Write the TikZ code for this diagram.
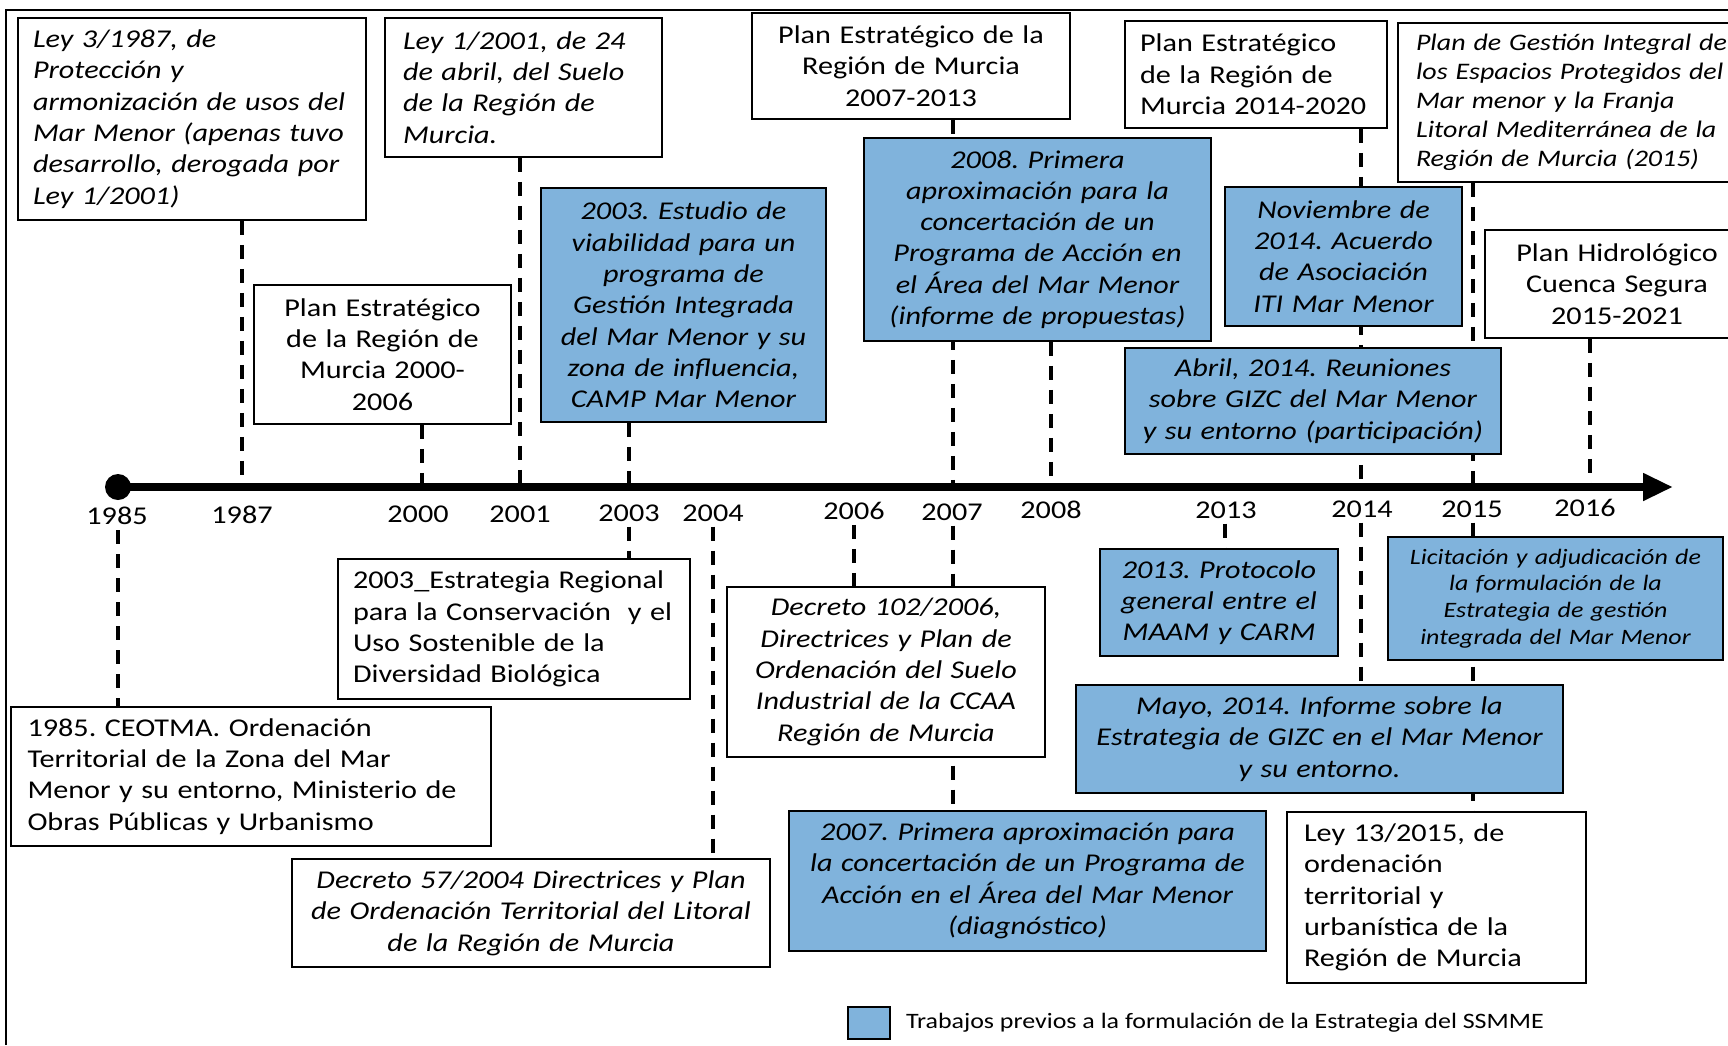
\documentclass[tikz,border=0pt]{standalone}
\usepackage{fontspec}
\setmainfont{Carlito}[FakeStretch=1.18]
\usetikzlibrary{arrows.meta,positioning,backgrounds}
\definecolor{azulprevio}{RGB}{128,179,220}
\frenchspacing

\tikzset{
  letra/.style={font=\fontsize{25.6}{31.3}\selectfont},
  cursiva/.style={font=\fontsize{25.6}{31.3}\selectfont\itshape},
  evento/.style={draw=black, line width=1.6pt, fill=white, inner sep=0pt, letra},
  previo/.style={evento, fill=azulprevio, cursiva},
  caja/.style n args={3}{minimum width=#1pt, minimum height=#2pt, text width=#3pt},
  guia/.style={line width=4pt, dash pattern=on 14pt off 10pt},
  anio/.style={inner sep=5pt, letra},
}

\begin{document}
\begin{tikzpicture}[x=1pt, y=-1pt]
\useasboundingbox (0,0) rectangle (1728,1045);
\clip (0,0) rectangle (1728,1045);

% boxes above the line
\node[evento, cursiva, caja={348}{202}{318}, align=left] (ley87) at (192,119) {Ley 3/1987, de\\Protección y\\armonización de usos del\\Mar Menor (apenas tuvo\\desarrollo, derogada por\\Ley 1/2001)};
\node[evento, cursiva, caja={277}{139}{241}, align=left] (ley01) at (523.5,87.5) {Ley 1/2001, de 24\\de abril, del Suelo\\de la Región de\\Murcia.};
\node[evento, caja={257}{139}{245}, align=center] (pe0006) at (382.5,354.5) {Plan Estratégico\\de la Región de\\Murcia 2000-\\2006};
\node[previo, caja={285}{234}{275}, align=center] (est03) at (683.5,305) {2003. Estudio de\\viabilidad para un\\programa de\\Gestión Integrada\\del Mar Menor y su\\zona de influencia,\\CAMP Mar Menor};
\node[evento, caja={318}{106}{300}, align=center] (pe0713) at (911,66) {Plan Estratégico de la\\Región de Murcia\\2007-2013};
\node[previo, caja={347}{203}{330}, align=center] (pr08) at (1037.5,239.5) {2008. Primera\\aproximación para la\\concertación de un\\Programa de Acción en\\el Área del Mar Menor\\(informe de propuestas)};
\node[evento, caja={262}{107}{232}, align=left] (pe1420) at (1256,74.5) {Plan Estratégico\\de la Región de\\Murcia 2014-2020};
\node[evento, caja={348}{159}{312}, align=left, font=\fontsize{23.7}{28.9}\selectfont\itshape] (pgi) at (1572,102.5) {Plan de Gestión Integral de\\los Espacios Protegidos del\\Mar menor y la Franja\\Litoral Mediterránea de la\\Región de Murcia (2015)};
\node[previo, caja={237}{139}{225}, align=center] (nov14) at (1343.5,256.5) {Noviembre de\\2014. Acuerdo\\de Asociación\\ITI Mar Menor};
\node[evento, caja={264}{108}{250}, align=center] (phs) at (1617,284) {Plan Hidrológico\\Cuenca Segura\\2015-2021};
\node[previo, caja={376}{106}{366}, align=center] (abr14) at (1313,401) {Abril, 2014. Reuniones\\sobre GIZC del Mar Menor\\y su entorno (participación)};

% boxes below the line
\node[evento, caja={480}{139}{447}, align=left] (ceotma) at (251,776.5) {1985. CEOTMA. Ordenación\\Territorial de la Zona del Mar\\Menor y su entorno, Ministerio de\\Obras Públicas y Urbanismo};
\node[evento, caja={352}{140}{322}, align=left] (erc03) at (514,629) {2003\_Estrategia Regional\\para la Conservación\ \ y el\\Uso Sostenible de la\\Diversidad Biológica};
\node[evento, cursiva, caja={478}{108}{460}, align=center] (dec04) at (531,913) {Decreto 57/2004 Directrices y Plan\\de Ordenación Territorial del Litoral\\de la Región de Murcia};
\node[evento, cursiva, caja={318}{170}{305}, align=center] (dec06) at (886,672) {Decreto 102/2006,\\Directrices y Plan de\\Ordenación del Suelo\\Industrial de la CCAA\\Región de Murcia};
\node[previo, caja={477}{140}{460}, align=center] (pr07) at (1027.5,881) {2007. Primera aproximación para\\la concertación de un Programa de\\Acción en el Área del Mar Menor\\(diagnóstico)};
\node[previo, caja={238}{107}{226}, align=center] (pro13) at (1219,602.5) {2013. Protocolo\\general entre el\\MAAM y CARM};
\node[previo, caja={335}{123}{320}, align=center, font=\fontsize{22}{26.8}\selectfont\itshape] (lic) at (1555.5,598.5) {Licitación y adjudicación de\\la formulación de la\\Estrategia de gestión\\integrada del Mar Menor};
\node[previo, caja={487}{108}{470}, align=center] (may14) at (1319.5,739) {Mayo, 2014. Informe sobre la\\Estrategia de GIZC en el Mar Menor\\y su entorno.};
\node[evento, caja={299}{171}{265}, align=left] (ley15) at (1436.5,897.5) {Ley 13/2015, de\\ordenación\\territorial y\\urbanística de la\\Región de Murcia};

% years
\foreach \a/\x/\lx/\ly in {1985/118/117/516, 1987/242/242/515, 2000/422/418/514, 2001/520/520/514, 2003/629/629/513, 2004/713/713/513, 2006/854/854/511, 2007/953/952/512, 2008/1051/1051/510, 2013/1225/1226/510, 2014/1361/1362/509, 2015/1473/1472/509, 2016/1590/1585/508}{
  \node[anio] (y\a) at (\lx,\ly) {\a};
  \coordinate (t\a) at (\x,487);
}

\node[circle, fill=black, minimum size=26pt, inner sep=0pt] (inicio) at (t1985) {};
\coordinate (fin) at (1673,487);
\draw[line width=8pt, -{Triangle[length=30pt, width=26pt]}] (inicio.center) -- (fin);

\begin{scope}[on background layer]
\draw[line width=2pt] (6,1045) -- (6,10) -- (1728,10);
\draw[guia] (ley87.south -| t1987) -- (t1987);
\draw[guia] (pe0006.south -| t2000) -- (t2000);
\draw[guia] (ley01.south -| t2001) -- (t2001);
\draw[guia] (est03.south -| t2003) -- (t2003);
\draw[guia] (pe0713.south -| t2007) -- (t2007);
\draw[guia] (pr08.south -| t2008) -- (t2008);
\draw[guia] (pe1420.south -| t2014) -- (t2014);
\draw[guia] (pgi.south -| t2015) -- (t2015);
\draw[guia] (phs.south -| t2016) -- (t2016);
\draw[guia] (y1985.south -| t1985) -- (ceotma.north -| t1985);
\draw[guia] (y2003.south -| t2003) -- (erc03.north -| t2003);
\draw[guia] (y2004.south -| t2004) -- (dec04.north -| t2004);
\draw[guia] (y2006.south -| t2006) -- (dec06.north -| t2006);
\draw[guia] (y2007.south -| t2007) -- (pr07.north -| t2007);
\draw[guia] (y2013.south -| t2013) -- (pro13.north -| t2013);
\draw[guia] (y2014.south -| t2014) -- (may14.north -| t2014);
\draw[guia] (y2015.south -| t2015) -- (ley15.north -| t2015);
\end{scope}

% legend
\node[previo, minimum width=42pt, minimum height=32pt] (muestra) at (869,1023) {};
\node[right=15pt of muestra, inner sep=0pt, font=\fontsize{22}{26}\selectfont] (leyenda) {Trabajos previos a la formulación de la Estrategia del SSMME};
\end{tikzpicture}
\end{document}
